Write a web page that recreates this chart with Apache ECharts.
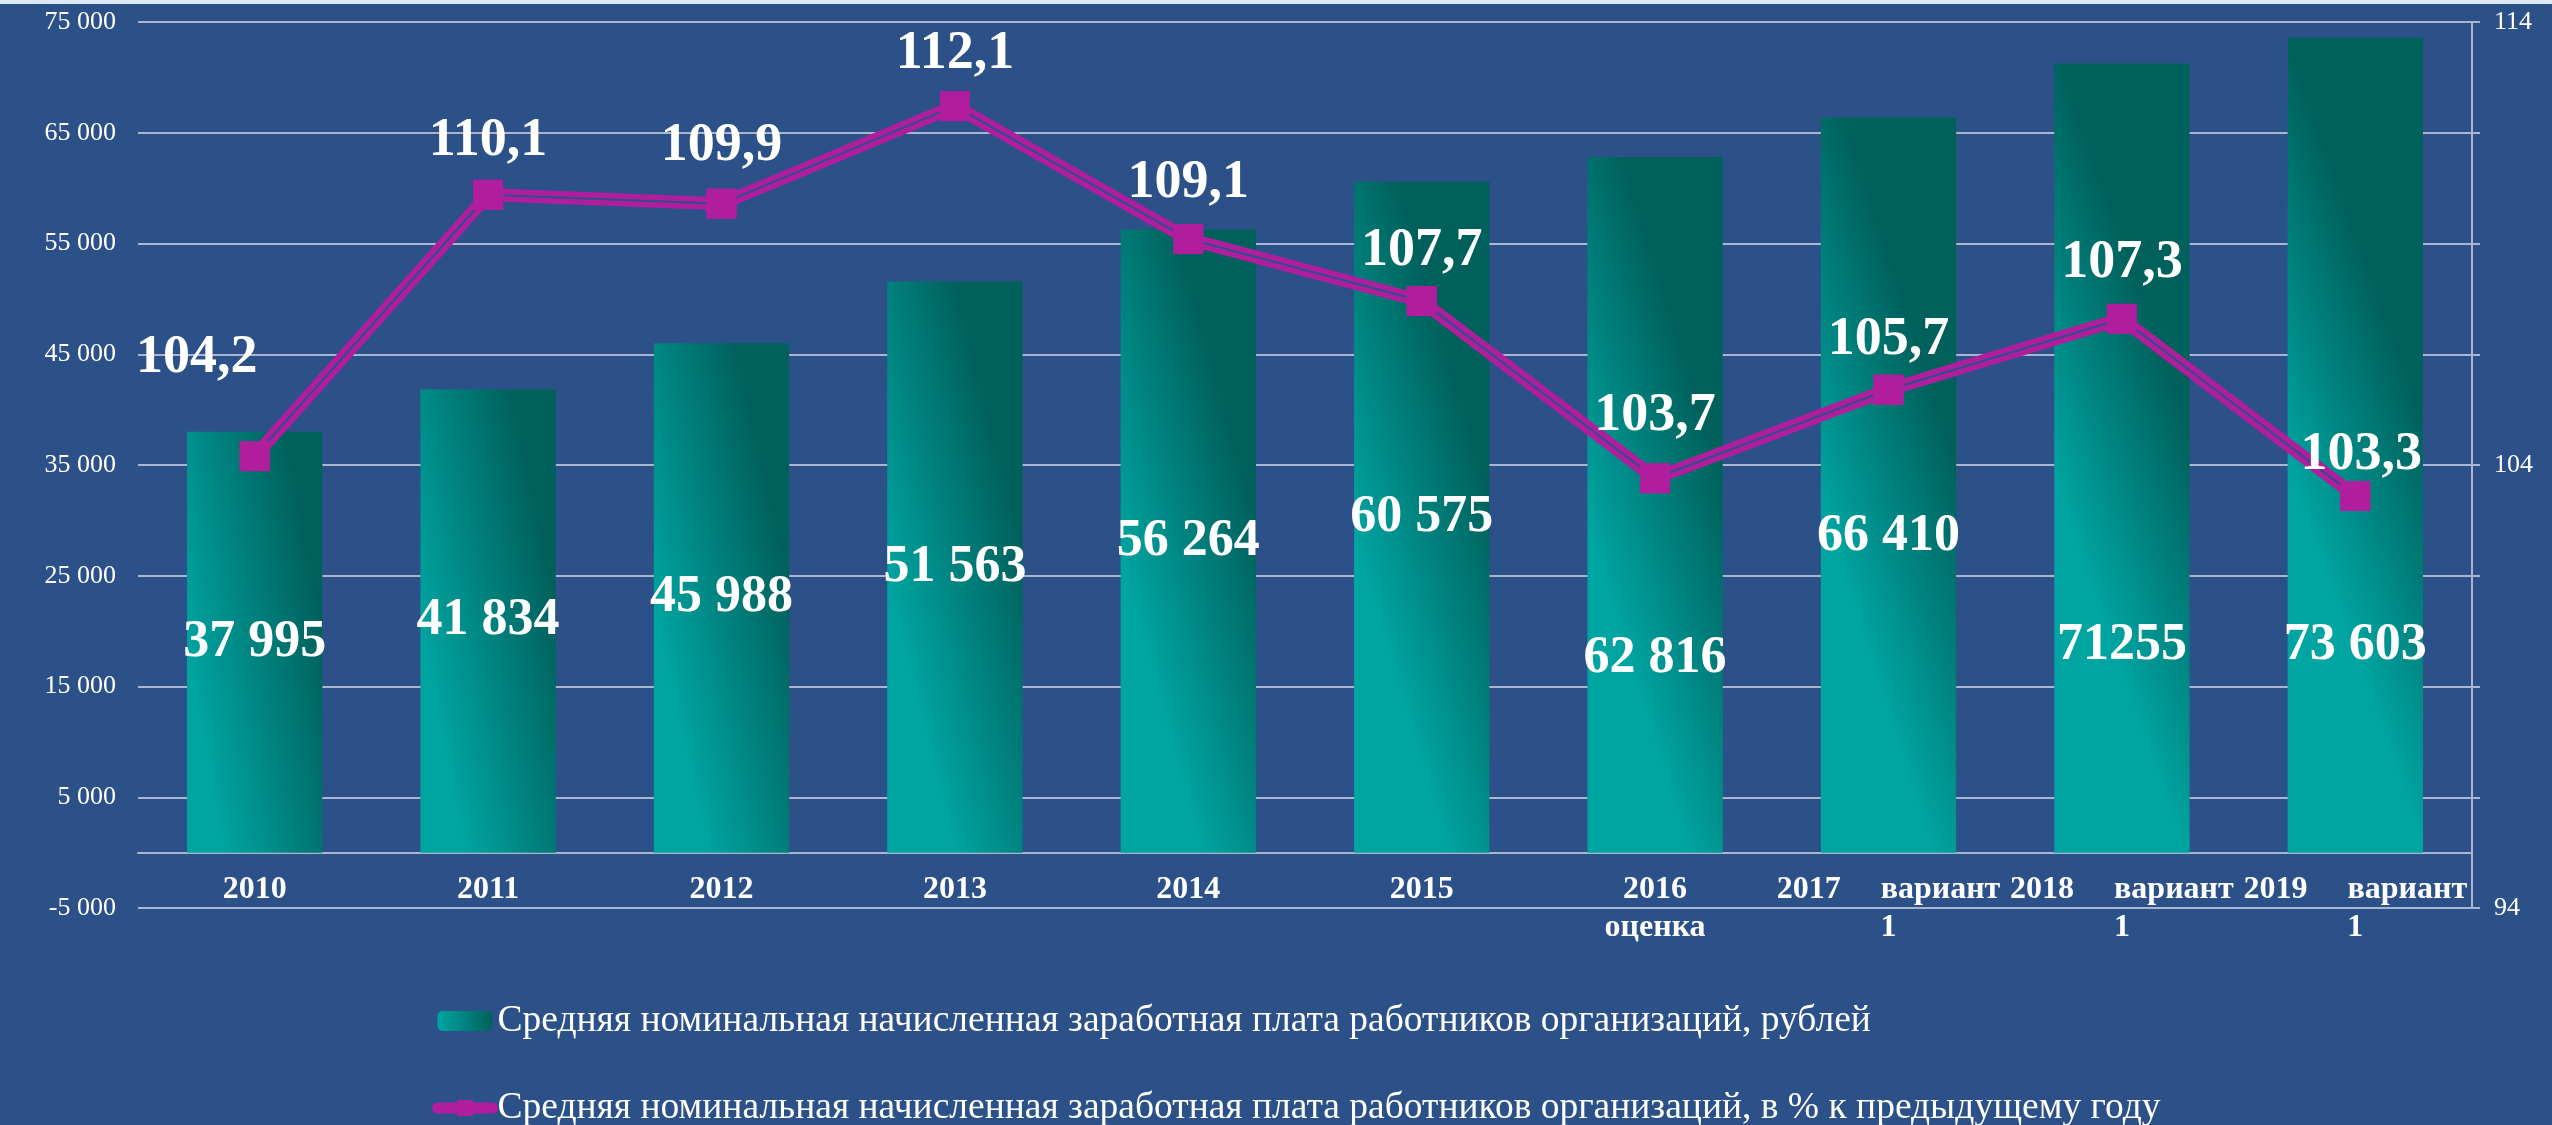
<!DOCTYPE html>
<html>
<head>
<meta charset="utf-8">
<script src="https://cdn.jsdelivr.net/npm/echarts@6/dist/echarts.min.js"></script>
<style>
html,body{margin:0;padding:0;background:#2c5088;}
#main{width:2552px;height:1125px;}
</style>
</head>
<body>
<div id="main"></div>
<script>
// категории по оси X
var categories = ['2010','2011','2012','2013','2014','2015','2016\nоценка',
    '2017     вариант\n1','2018     вариант\n1','2019     вариант\n1'];
// зарплата, рублей
var salary = [37995, 41834, 45988, 51563, 56264, 60575, 62816, 66410, 71255, 73603];
var salaryLabels = ['37 995','41 834','45 988','51 563','56 264','60 575','62 816','66 410','71255','73 603'];
// в % к предыдущему году
var growth = [104.2, 110.1, 109.9, 112.1, 109.1, 107.7, 103.7, 105.7, 107.3, 103.3];

var barName = 'Средняя номинальная начисленная заработная плата работников организаций, рублей';
var lineName = 'Средняя номинальная начисленная заработная плата работников организаций, в % к предыдущему году';

// сдвиги подписей (px), как на исходной картинке
var barLabelShift = [0, 0, 0, 0, 0, 0, 154, 52, 188, 201];
var lineLabelShift = [[-58,-98],[0,-54],[0,-58],[0,-52],[0,-56],[0,-50],[0,-62],[0,-50],[0,-56],[6,-41]];

var BG = '#2c5088';
var GRID = '#aab6d0';
var MAG = '#b01e9e';
var FONT = '"Liberation Serif", "Times New Roman", serif';

var myChart = echarts.init(document.getElementById('main'));

// почти горизонтальный градиент столбцов
var barGrad = new echarts.graphic.LinearGradient(0, 0.53, 1, 0.47, [
    {offset: 0, color: '#00a4a1'},
    {offset: 1, color: '#00615c'}
]);

function fmtThousands(v){
    var s = String(Math.abs(v)).replace(/\B(?=(\d{3})+(?!\d))/g, ' ');
    return (v < 0 ? '-' : '') + s;
}

var barData = [];
for (var i = 0; i < salary.length; i++) {
    barData.push({ value: salary[i], label: { offset: [0, barLabelShift[i]] } });
}
var markData = [];
for (var j = 0; j < growth.length; j++) {
    markData.push({ value: growth[j], label: { offset: lineLabelShift[j] } });
}

var option = {
    backgroundColor: BG,
    animation: false,
    graphic: [{
        type: 'rect', left: 0, top: 0, shape: {width: 2552, height: 4},
        style: {fill: '#dde6f5'}, z: 100
    }],
    legend: {
        orient: 'vertical',
        left: 427,
        top: 996,
        height: 300,
        itemWidth: 55,
        itemHeight: 20,
        itemGap: 47,
        data: [
            { name: barName },
            { name: lineName, lineStyle: { width: 11, cap: 'round' } }
        ],
        textStyle: {color: '#fff', fontFamily: FONT, fontSize: 37.5, lineHeight: 40}
    },
    grid: { left: 138, right: 80, top: 22, bottom: 217 },
    xAxis: {
        type: 'category',
        data: categories,
        offset: -55.4,
        axisLine: { show: true, onZero: false, lineStyle: {color: GRID, width: 2} },
        axisTick: { show: false },
        axisLabel: {
            interval: 0, color: '#fff', fontFamily: FONT, fontWeight: 'bold',
            fontSize: 32, lineHeight: 38, margin: 18
        }
    },
    yAxis: [
        {
            type: 'value', min: -5000, max: 75000, interval: 10000,
            axisLine: {show: false}, axisTick: {show: false},
            splitLine: {show: true, lineStyle: {color: GRID, width: 2}},
            axisLabel: {
                color: '#fff', fontFamily: FONT, fontSize: 26, margin: 22,
                formatter: fmtThousands
            }
        },
        {
            type: 'value', min: 94, max: 114, interval: 2.5, position: 'right',
            axisLine: {show: true, lineStyle: {color: GRID, width: 2}},
            axisTick: {show: true, length: 8, lineStyle: {color: GRID, width: 2}},
            splitLine: {show: false},
            axisLabel: {
                color: '#fff', fontFamily: FONT, fontSize: 26, margin: 22,
                formatter: function(v){ return Math.abs((v - 94) % 10) < 1e-6 ? String(v) : ''; }
            }
        }
    ],
    series: [
        {
            name: barName,
            type: 'bar',
            barWidth: '58%',
            itemStyle: { color: barGrad },
            label: {
                show: true, position: 'inside', color: '#fff', fontFamily: FONT,
                fontWeight: 'bold', fontSize: 52,
                formatter: function(p){ return salaryLabels[p.dataIndex]; }
            },
            data: barData
        },
        {
            name: lineName,
            type: 'line',
            yAxisIndex: 1,
            z: 3,
            symbol: 'rect',
            symbolSize: 30,
            showSymbol: true,
            itemStyle: { color: MAG },
            lineStyle: { color: MAG, width: 13 },
            data: growth
        },
        {
            // зазор двойной линии
            name: 'gap',
            type: 'line',
            yAxisIndex: 1,
            z: 4,
            silent: true,
            showSymbol: false,
            lineStyle: { color: BG, width: 2 },
            data: growth
        },
        {
            name: 'marks',
            type: 'line',
            yAxisIndex: 1,
            z: 5,
            symbol: 'rect',
            symbolSize: 30,
            itemStyle: { color: MAG },
            lineStyle: { width: 0, opacity: 0 },
            label: {
                show: true, position: 'inside', color: '#fff', fontFamily: FONT,
                fontWeight: 'bold', fontSize: 54,
                formatter: function(p){ return p.value.toFixed(1).replace('.', ','); }
            },
            data: markData
        }
    ]
};

myChart.setOption(option);
</script>
</body>
</html>
